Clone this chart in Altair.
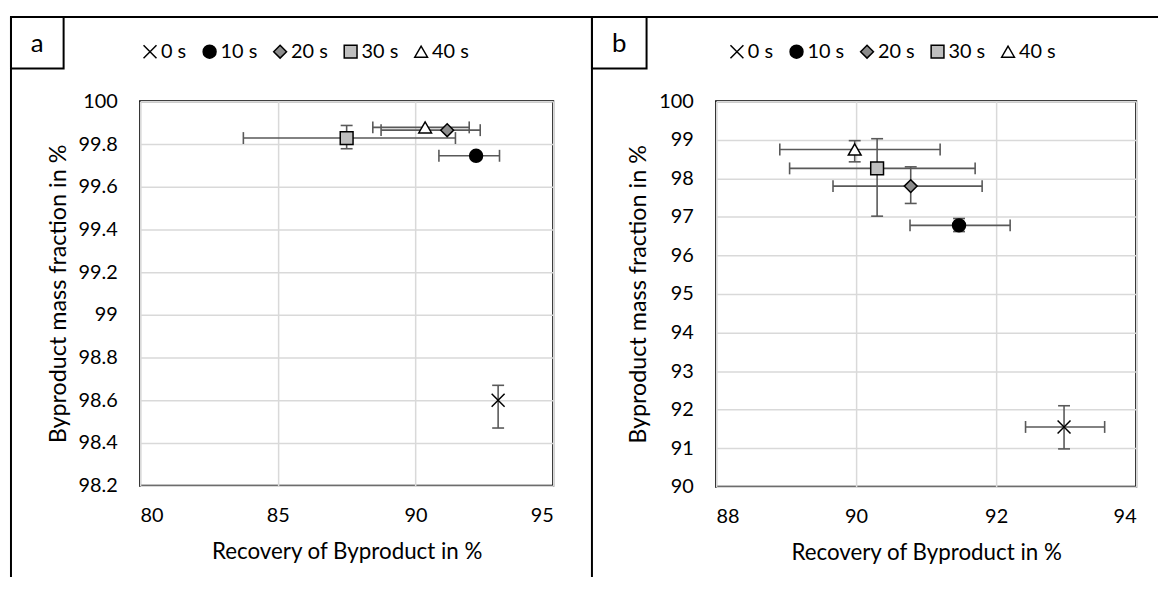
import altair as alt
import pandas as pd

series = ["0 s", "10 s", "20 s", "30 s", "40 s"]

# Panel a values
a_x = [93.00, 92.20, 91.15, 87.50, 90.35]
a_y = [98.60, 99.745, 99.865, 99.828, 99.878]
a_xlo = [93.00, 90.85, 88.75, 83.75, 88.45]
a_xhi = [93.00, 93.05, 92.35, 91.45, 91.95]
a_ylo = [98.47, 99.745, 99.865, 99.778, 99.878]
a_yhi = [98.67, 99.745, 99.865, 99.887, 99.878]
a_xticks = [80, 85, 90, 95]
a_yticks = [98.2, 98.4, 98.6, 98.8, 99.0, 99.2, 99.4, 99.6, 99.8, 100.0]

# Panel b values
b_x = [92.97, 91.47, 90.78, 90.30, 89.98]
b_y = [91.55, 96.78, 97.80, 98.26, 98.75]
b_xlo = [92.42, 90.77, 89.67, 89.05, 88.91]
b_xhi = [93.55, 92.20, 91.80, 91.70, 91.20]
b_ylo = [90.98, 96.62, 97.35, 97.02, 98.43]
b_yhi = [92.10, 96.96, 98.30, 99.03, 98.98]
b_xticks = [88, 90, 92, 94]
b_yticks = [90, 91, 92, 93, 94, 95, 96, 97, 98, 99, 100]

FONT = "Lato"
FS = 20
EB = "#595959"

shape_range = ["M-1,-1L1,1M-1,1L1,-1", "circle", "diamond", "square", "triangle-up"]
fill_range = ["#000000", "#000000", "#8c8c8c", "#bfbfbf", "#ffffff"]
stroke_range = ["#000000"] * 5
size_range = [170, 165, 250, 140, 250]

deco = pd.DataFrame({"k": [0]})


def panel(x, y, xlo, xhi, ylo, yhi, xdom, xticks, ydom, yticks, letter,
          w, h, left_x, top_right_x, box_w, leg_x):
    df = pd.DataFrame({"series": series, "x": x, "y": y,
                       "xlo": xlo, "xhi": xhi, "ylo": ylo, "yhi": yhi})
    base = alt.Chart(df)
    xs = alt.Scale(domain=xdom, nice=False, zero=False)
    ys = alt.Scale(domain=ydom, nice=False, zero=False)
    xax = alt.Axis(values=xticks, title="Recovery of Byproduct in %", format="~r",
                   labelPadding=20, titlePadding=15, titleFontSize=22.5)
    yax = alt.Axis(values=yticks, title="Byproduct mass fraction in %", format="~r",
                   labelPadding=23, titlePadding=8, titleFontSize=23.5)
    X = lambda f: alt.X(f, type="quantitative", scale=xs, axis=xax)
    Y = lambda f: alt.Y(f, type="quantitative", scale=ys, axis=yax)

    xe = base.transform_filter("datum.xhi > datum.xlo")
    ye = base.transform_filter("datum.yhi > datum.ylo")
    xbar = xe.mark_rule(color=EB, strokeWidth=1.6).encode(x=X("xlo"), x2="xhi:Q", y=Y("y"))
    xcap1 = xe.mark_tick(orient="vertical", size=12, thickness=1.6, color=EB, opacity=1).encode(x=X("xlo"), y=Y("y"))
    xcap2 = xe.mark_tick(orient="vertical", size=12, thickness=1.6, color=EB, opacity=1).encode(x=X("xhi"), y=Y("y"))
    ybar = ye.mark_rule(color=EB, strokeWidth=1.6).encode(x=X("x"), y=Y("ylo"), y2="yhi:Q")
    ycap1 = ye.mark_tick(orient="horizontal", size=12, thickness=1.6, color=EB, opacity=1).encode(x=X("x"), y=Y("ylo"))
    ycap2 = ye.mark_tick(orient="horizontal", size=12, thickness=1.6, color=EB, opacity=1).encode(x=X("x"), y=Y("yhi"))

    leg = alt.Legend(orient="none", legendX=leg_x, legendY=-60, direction="horizontal",
                     title=None, labelFont=FONT, labelFontSize=FS, labelColor="black",
                     symbolStrokeWidth=1.5, symbolOpacity=1, columnPadding=13,
                     labelOffset=1, padding=0)
    pts = base.mark_point(filled=True, opacity=1, strokeWidth=1.5).encode(
        x=X("x"), y=Y("y"),
        shape=alt.Shape("series:N", scale=alt.Scale(domain=series, range=shape_range), legend=leg),
        fill=alt.Fill("series:N", scale=alt.Scale(domain=series, range=fill_range), legend=leg),
        stroke=alt.Stroke("series:N", scale=alt.Scale(domain=series, range=stroke_range), legend=leg),
        size=alt.Size("series:N", scale=alt.Scale(domain=series, range=size_range), legend=leg),
    )

    d = alt.Chart(deco)
    top_line = d.mark_rule(color="black", strokeWidth=2).encode(
        x=alt.value(left_x), x2=alt.value(top_right_x), y=alt.value(-85))
    left_line = d.mark_rule(color="black", strokeWidth=2).encode(
        x=alt.value(left_x), y=alt.value(-85), y2=alt.value(479))
    box = d.mark_rect(fill=None, stroke="black", strokeWidth=2).encode(
        x=alt.value(left_x), x2=alt.value(left_x + box_w), y=alt.value(-85), y2=alt.value(-33))
    lab = d.mark_text(font=FONT, fontSize=26, color="black", align="center", baseline="middle").encode(
        x=alt.value(left_x + box_w / 2), y=alt.value(-58), text=alt.value(letter))

    return alt.layer(xbar, xcap1, xcap2, ybar, ycap1, ycap2, pts,
                     top_line, left_line, box, lab).properties(width=w, height=h)


pa = panel(a_x, a_y, a_xlo, a_xhi, a_ylo, a_yhi, [80, 95], a_xticks, [98.2, 100], a_yticks,
           "a", 416, 387, -130, 455, 53, 0)
pb = panel(b_x, b_y, b_xlo, b_xhi, b_ylo, b_yhi, [88, 94], b_xticks, [90, 100], b_yticks,
           "b", 423, 388, -125, 445, 55, 11)

chart = alt.hconcat(pa, pb, spacing=164, bounds="flush").resolve_scale(
    shape="independent", fill="independent", stroke="independent", size="independent"
).resolve_legend(
    shape="independent", fill="independent", stroke="independent", size="independent"
).properties(
    padding={"left": 1, "top": 5, "right": 0, "bottom": 0}
).configure_view(
    stroke="black", strokeWidth=2
).configure_axis(
    gridColor="#d9d9d9", gridWidth=1.5, domain=False, ticks=False,
    labelFont=FONT, labelFontSize=FS, labelColor="black",
    titleFont=FONT, titleFontSize=23, titleFontWeight="normal", titleColor="black"
)

chart.save("out.html", embed_options={"renderer": "svg", "actions": False})
